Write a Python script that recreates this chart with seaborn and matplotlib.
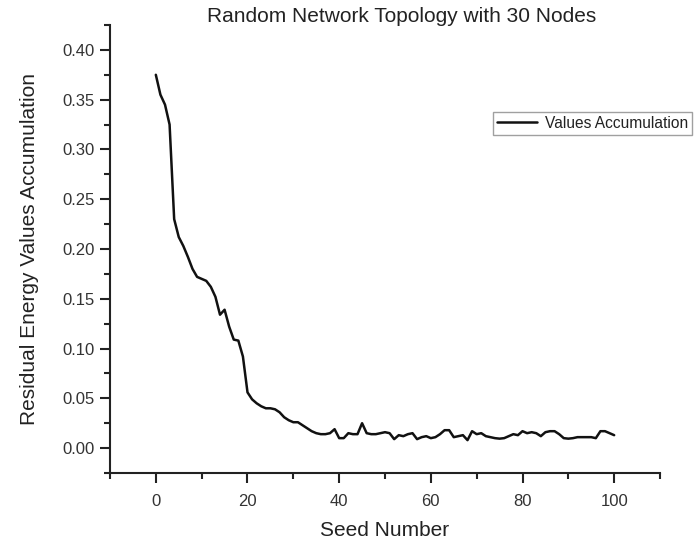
import matplotlib
matplotlib.use("Agg")
import matplotlib.pyplot as plt
from matplotlib.ticker import MultipleLocator
import numpy as np
import pandas as pd
import seaborn as sns

# Seed numbers and accumulated residual energy per seed
seeds = list(range(0, 101))
residual_energy = [
    0.375, 0.355, 0.345, 0.325, 0.230, 0.212, 0.203, 0.192, 0.180, 0.172,
    0.170, 0.168, 0.162, 0.152, 0.134, 0.139, 0.122, 0.109, 0.108, 0.092,
    0.056, 0.049, 0.045, 0.042, 0.040, 0.040, 0.039, 0.036, 0.031, 0.028,
    0.026, 0.026, 0.023, 0.020, 0.017, 0.015, 0.014, 0.014, 0.015, 0.019,
    0.010, 0.010, 0.015, 0.014, 0.014, 0.025, 0.015, 0.014, 0.014, 0.015,
    0.016, 0.015, 0.009, 0.013, 0.012, 0.014, 0.015, 0.009, 0.011, 0.012,
    0.010, 0.011, 0.014, 0.018, 0.018, 0.011, 0.012, 0.013, 0.008, 0.017,
    0.014, 0.015, 0.012, 0.011, 0.010, 0.0095, 0.010, 0.012, 0.014, 0.013,
    0.017, 0.015, 0.016, 0.015, 0.012, 0.016, 0.017, 0.017, 0.014, 0.010,
    0.0095, 0.010, 0.011, 0.011, 0.011, 0.011, 0.010, 0.017, 0.017, 0.015,
    0.013,
]
series_name = "Values Accumulation"

df = pd.DataFrame({"seed": seeds, "value": residual_energy, "series": series_name})

sns.set_style("ticks")
plt.rcParams["font.family"] = ["Liberation Sans", "DejaVu Sans"]

fig = plt.figure(figsize=(6.94, 5.41), dpi=100)
ax = fig.add_axes([110 / 694, 1 - 473 / 541, 550 / 694, 448 / 541])

sns.lineplot(data=df, x="seed", y="value", hue="series",
             palette=["#111111"], linewidth=1.8, ax=ax)

ax.set_xlim(-10, 110)
ax.set_ylim(-0.025, 0.425)
ax.xaxis.set_major_locator(MultipleLocator(20))
ax.xaxis.set_minor_locator(MultipleLocator(10))
ax.yaxis.set_major_locator(MultipleLocator(0.05))
ax.yaxis.set_minor_locator(MultipleLocator(0.025))
ax.yaxis.set_major_formatter(matplotlib.ticker.FormatStrFormatter("%.2f"))

for side in ("top", "right"):
    ax.spines[side].set_visible(False)
for side in ("left", "bottom"):
    ax.spines[side].set_linewidth(1.5)
    ax.spines[side].set_color("#222222")

ax.tick_params(which="major", direction="out", length=7, width=1.5,
               colors="#222222", labelsize=12, labelcolor="#333333")
ax.tick_params(axis="x", which="major", pad=8)
ax.tick_params(axis="y", which="major", pad=4)
ax.tick_params(which="minor", direction="out", length=4, width=1.5,
               colors="#222222")

ax.set_xlabel("Seed Number", fontsize=15, color="#222222", labelpad=9)
ax.set_ylabel("Residual Energy Values Accumulation", fontsize=15,
              color="#222222", labelpad=17)

fig.text(402 / 694, 1 - 16 / 541, "Random Network Topology with 30 Nodes",
         ha="center", va="center", fontsize=15, color="#222222")

leg = ax.legend(loc="upper left", bbox_to_anchor=(493 / 694, 1 - 112 / 541),
                bbox_transform=fig.transFigure, frameon=True, fancybox=False,
                fontsize=11.2, handlelength=2.6, handletextpad=0.5,
                borderpad=0.25, borderaxespad=0)
leg.get_frame().set_edgecolor("#888888")
leg.get_frame().set_linewidth(1.0)
for t in leg.get_texts():
    t.set_color("#222222")

fig.savefig("out.png", dpi=100)
